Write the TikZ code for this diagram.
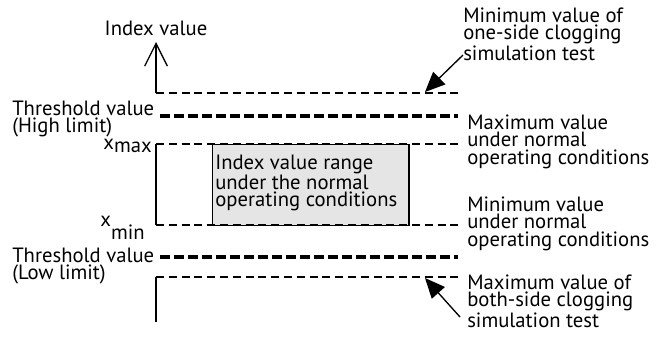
\documentclass[tikz,border=0pt]{standalone}
\usepackage{fontspec}
\setmainfont{PT Sans}
\usetikzlibrary{arrows.meta}
\begin{document}
\begin{tikzpicture}[x=0.75pt,y=-0.75pt,
  lblfont/.style={font=\fontsize{15.5}{12.8}\selectfont},
  lbl/.style={lblfont,inner sep=0pt,anchor=north west,align=left},
  thinDash/.style={line width=0.9pt,dash pattern=on 6pt off 3.6pt},
  thickDash/.style={line width=2.6pt,dash pattern=on 7.5pt off 3pt},
  axis/.style={line width=1pt},
  pointer/.style={line width=1pt,-{Triangle[length=15pt,width=13pt]}}]
\useasboundingbox (0,0) rectangle (656,336);
% coordinates
\coordinate (topL) at (156,93);
\coordinate (topR) at (458,93);
\coordinate (arrTip) at (156,42);
\coordinate (hiL) at (160,116);
\coordinate (hiR) at (458,116);
\coordinate (maxL) at (156,144);
\coordinate (maxR) at (458,144);
\coordinate (minL) at (156,225);
\coordinate (minR) at (458,225);
\coordinate (loL) at (160,257);
\coordinate (loR) at (458,257);
\coordinate (botL) at (156,277);
\coordinate (botR) at (458,277);
\coordinate (botEnd) at (156,322);
\coordinate (tipA) at (425,92);
\coordinate (tailA) at (463,55);
\coordinate (tipB) at (425,278);
\coordinate (tailB) at (460,317);
% box
\node[draw=black,line width=0.9pt,fill=black!10,inner sep=0pt,anchor=north west,minimum width=196*0.75pt,minimum height=81*0.75pt] (range) at (212,144) {};
\draw[line width=1.6pt] (range.north east) -- (range.south east);
\node[lbl] (rangeTxt) at (215,155) {Index value range\\under the normal\\operating conditions};
% dashed lines
\draw[thinDash] (topL) -- (topR);
\draw[thickDash] (hiL) -- (hiR);
\draw[thinDash] (maxL) -- (maxR);
\draw[thinDash] (minL) -- (minR);
\draw[thickDash] (loL) -- (loR);
\draw[thinDash] (botL) -- (botR);
% axis segments
\draw[axis,-{Straight Barb[length=17pt,width=17pt,line width=1pt]}] (topL) -- (arrTip);
\draw[axis] (maxL) -- (minL);
\draw[axis] (botL) -- (botEnd);
% left labels
\node[lblfont,inner sep=0pt,anchor=south] (idx) at (156,36) {Index value};
\node[lbl] (thHi) at (12,101) {Threshold value\\(High limit)};
\node[lblfont,inner sep=0pt,anchor=base east] (xmax) at (152,149) {x\raisebox{-2.5pt}{max}};
\node[lblfont,inner sep=0pt,anchor=base east] (xmin) at (145,226) {x\raisebox{-10pt}{min}};
\node[lbl] (thLo) at (12,248) {Threshold value\\(Low limit)};
% right labels
\node[lbl] (oneSide) at (463,8) {Minimum value of\\one-side clogging\\simulation test};
\node[lbl] (maxNorm) at (467,115) {Maximum value\\under normal\\operating conditions};
\node[lbl] (minNorm) at (467,197) {Minimum value\\under normal\\operating conditions};
\node[lbl] (bothSide) at (467,275) {Maximum value of\\both-side clogging\\simulation test};
% pointers
\draw[pointer] (tailA) -- (tipA);
\draw[pointer] (tailB) -- (tipB);
\end{tikzpicture}
\end{document}
